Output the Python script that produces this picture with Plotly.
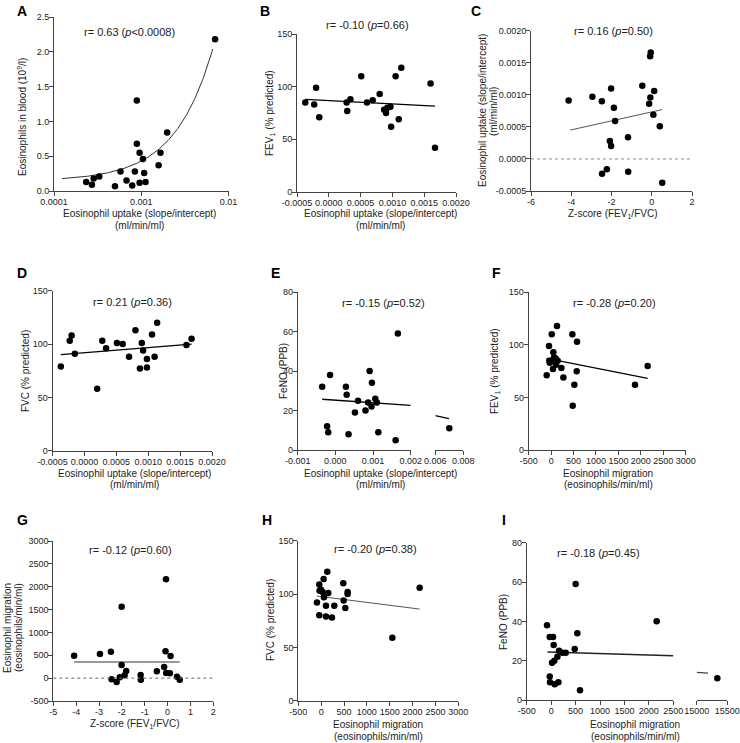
import plotly.graph_objects as go
import numpy as np

W, H = 740, 743
FONT = "Arial, Liberation Sans, sans-serif"

# ---------------- data ----------------
# A: eosinophil uptake vs eosinophils in blood (log x)
a_x = [0.000234, 0.000272, 0.000285, 0.00033, 0.0005, 0.000578, 0.000678, 0.000788, 0.000845, 0.00089,
       0.00089, 0.000957, 0.000957, 0.001045, 0.00108, 0.00112, 0.00158, 0.00166, 0.00198, 0.00702]
a_y = [0.13, 0.09, 0.18, 0.21, 0.07, 0.28, 0.15, 0.08, 0.28, 1.30,
       0.68, 0.12, 0.55, 0.46, 0.26, 0.13, 0.37, 0.55, 0.84, 2.18]
a_fit_intercept = 0.1426
a_fit_slope = 288.0
a_fit_xrange = [0.000123, 0.00659]

# B: uptake vs FEV1
b_x = [-0.00037, -0.00023, -0.0002, -0.00015, 0.00028, 0.00029, 0.00034, 0.00051, 0.0006, 0.00069, 0.0008,
       0.00087, 0.0009, 0.00092, 0.00097, 0.00098, 0.00105, 0.0011, 0.00114, 0.0016, 0.00167]
b_y = [85, 83, 99, 71, 85, 77, 88, 110, 85, 87, 93, 78, 75, 80, 81, 62, 110, 69, 118, 103, 42]
b_fit_x = [-0.00037, 0.00167]
b_fit_y = [88, 81.5]

# C: Z-score vs uptake
c_x = [-4.13, -2.95, -2.48, -2.02, -1.88, -1.82, -2.08, -2.02, -2.23, -2.47, -1.18, -1.17, -0.47, -0.13,
       -0.07, -0.08, -0.05, 0.12, 0.08, 0.4, 0.52]
c_y = [0.00091, 0.00097, 0.0009, 0.0011, 0.0008, 0.00059, 0.00028, 0.0002, -0.00016, -0.00023, 0.00034,
       -0.0002, 0.00114, 0.00086, 0.00096, 0.0016, 0.00166, 0.00106, 0.00069, 0.00051, -0.00037]
c_fit_x = [-4.05, 0.52]
c_fit_y = [0.00045, 0.00077]

# D: uptake vs FVC
d_x = [-0.00037, -0.00023, -0.0002, -0.00015, 0.0002, 0.00028, 0.00034, 0.00051, 0.0006, 0.0007, 0.0008,
       0.00087, 0.0009, 0.00092, 0.00098, 0.00098, 0.00106, 0.0011, 0.00114, 0.0016, 0.00168]
d_y = [79, 103, 108, 91, 58, 103, 96, 101, 100, 88, 113, 77, 101, 94, 86, 78, 109, 88, 120, 99, 105]
d_fit_x = [-0.00037, 0.00168]
d_fit_y = [90, 100]

# E: uptake vs FeNO (broken x axis)
e_x = [-0.00035, -0.00022, -0.00019, -0.00014, 0.00028, 0.0003, 0.00035, 0.00052, 0.0006, 0.0008,
       0.00087, 0.00091, 0.00097, 0.00096, 0.00106, 0.0011, 0.00114, 0.0016, 0.00166]
e_y = [32, 12, 9, 38, 32, 28, 8, 19, 25, 20, 24, 40, 34, 22, 26, 24, 9, 5, 59]
e_x2 = [0.007]
e_y2 = [11]
e_fit_x = [-0.00035, 0.002]
e_fit_y = [25.7, 22.6]
e_fit2_x = [0.006, 0.00698]
e_fit2_y = [17.4, 15.9]

# F: migration vs FEV1
f_x = [-99, -47, 13, 131, 50, -40, -30, -2, 65, 100, 146, 42, 109, 228, 273, 473, 577, 570, 518, 481, 1870, 2152]
f_y = [71, 99, 110, 118, 93, 85, 83, 85, 88, 87, 85, 77, 81, 78, 69, 110, 103, 75, 62, 42, 62, 80]
f_fit_x = [-99, 2152]
f_fit_y = [87.2, 68.2]

# G: Z-score vs migration
g_x = [-4.09, -2.96, -2.48, -2.45, -2.23, -2.09, -2.01, -2.01, -1.88, -1.81, -1.18, -1.17, -0.47, -0.15,
       -0.09, -0.07, -0.06, 0.1, 0.13, 0.41, 0.53]
g_y = [492, 528, 579, -26, -85, 17, 287, 1564, 61, 156, 69, -34, 149, 243, 586, 2162, 112, 105, 484, 32, -34]
g_fit_x = [-4.09, 0.53]
g_fit_y = [353, 353]

# H: migration vs FVC
h_x = [-92, -41, -34, -41, -4, 32, 54, 134, 61, 105, 105, 156, 236, 287, 484, 492, 528, 579, 579, 1557, 2155]
h_y = [92, 109, 103, 80, 104, 102, 114, 121, 97, 89, 79, 101, 78, 89, 110, 94, 87, 102, 100, 59, 106]
h_fit_x = [-92, 2155]
h_fit_y = [98.1, 85.9]

# I: migration vs FeNO (broken x axis)
i_x = [-84, -29, -23, -29, 39, 52, 18, 66, 73, 148, 162, 128, 230, 298, 482, 502, 536, 591, 2159]
i_y = [38, 12, 9, 32, 32, 28, 19, 20, 8, 9, 25, 22, 24, 24, 26, 59, 34, 5, 40]
i_x2 = [15337]
i_y2 = [11]
i_fit_x = [-76, 2500]
i_fit_y = [24.4, 22.5]
i_fit2_x = [15000, 15185]
i_fit2_y = [14.1, 13.7]

# tick values / labels
uptake_ticks = [-0.0005, 0.0, 0.0005, 0.001, 0.0015, 0.002]
uptake_labels = ["-0.0005", "0.0000", "0.0005", "0.0010", "0.0015", "0.0020"]
pct_ticks = [0, 50, 100, 150]
pct_labels = ["0", "50", "100", "150"]
a_xticks = [0.0001, 0.001, 0.01]
a_xlabels = ["0.0001", "0.001", "0.01"]
a_yticks = [0, 0.5, 1.0, 1.5, 2.0, 2.5]
a_ylabels = ["0.0", "0.5", "1.0", "1.5", "2.0", "2.5"]
z_ticks_c = [-6, -4, -2, 0, 2]
z_ticks_g = [-5, -4, -3, -2, -1, 0, 1, 2]
e_xticks1 = [-0.001, 0.0, 0.001, 0.002]
e_xlabels1 = ["-0.001", "0.000", "0.001", "0.002"]
e_xticks2 = [0.006, 0.008]
e_xlabels2 = ["0.006", "0.008"]
feno_ticks = [0, 20, 40, 60, 80]
mig_ticks = [-500, 0, 500, 1000, 1500, 2000, 2500, 3000]
mig_ticks_i = [-500, 0, 500, 1000, 1500, 2000, 2500]
i_xticks2 = [15000, 15500]
g_yticks = [-500, 0, 500, 1000, 1500, 2000, 2500, 3000]


def lab(v):
    return [str(t) for t in v]


def px(x):
    return x / W


def py(y):
    return 1 - y / H


fig = go.Figure()

MK = dict(color="black", size=6.5)


def pts(x, y, xa, ya):
    fig.add_trace(go.Scatter(x=x, y=y, mode="markers", marker=MK, xaxis=xa, yaxis=ya,
                             cliponaxis=False, showlegend=False, hoverinfo="skip"))


def fitline(x, y, xa, ya, color="black", width=1.3):
    fig.add_trace(go.Scatter(x=x, y=y, mode="lines", line=dict(color=color, width=width),
                             xaxis=xa, yaxis=ya, cliponaxis=False, showlegend=False, hoverinfo="skip"))


# A
a_line_x = np.geomspace(a_fit_xrange[0], a_fit_xrange[1], 200)
a_line_y = a_fit_intercept + a_fit_slope * a_line_x
fitline(a_line_x, a_line_y, "x", "y", color="#333", width=1)
pts(a_x, a_y, "x", "y")
# B
fitline(b_fit_x, b_fit_y, "x2", "y2")
pts(b_x, b_y, "x2", "y2")
# C
fitline(c_fit_x, c_fit_y, "x3", "y3", color="#555", width=1)
pts(c_x, c_y, "x3", "y3")
# D
fitline(d_fit_x, d_fit_y, "x4", "y4")
pts(d_x, d_y, "x4", "y4")
# E
fitline(e_fit_x, e_fit_y, "x5", "y5")
pts(e_x, e_y, "x5", "y5")
fitline(e_fit2_x, e_fit2_y, "x10", "y5")
pts(e_x2, e_y2, "x10", "y5")
# F
fitline(f_fit_x, f_fit_y, "x6", "y6")
pts(f_x, f_y, "x6", "y6")
# G
fitline(g_fit_x, g_fit_y, "x7", "y7", color="#777", width=1.4)
pts(g_x, g_y, "x7", "y7")
# H
fitline(h_fit_x, h_fit_y, "x8", "y8", color="#555", width=1)
pts(h_x, h_y, "x8", "y8")
# I
fitline(i_fit_x, i_fit_y, "x9", "y9", color="#222", width=1.3)
pts(i_x, i_y, "x9", "y9")
fitline(i_fit2_x, i_fit2_y, "x11", "y9", color="#444", width=1.3)
pts(i_x2, i_y2, "x11", "y9")


def axis(x0, x1, rng, tv, tt, anchor, typ="linear", horizontal=True, y0=None, y1=None):
    if horizontal:
        dom = [px(x0), px(x1)]
    else:
        dom = [py(y1), py(y0)]
    return dict(domain=dom, range=rng, tickvals=tv, ticktext=tt, anchor=anchor, type=typ,
                showline=True, linecolor="#444", linewidth=1, ticks="outside", ticklen=4,
                tickwidth=1, tickcolor="#444", showgrid=False, zeroline=False, tickangle=0,
                automargin=False, ticklabelstandoff=-2,
                tickfont=dict(size=9, color="#222", family=FONT), fixedrange=True)


layout = dict(
    template="none",
    width=W, height=H, margin=dict(l=0, r=0, t=0, b=0, pad=0, autoexpand=False),
    paper_bgcolor="white", plot_bgcolor="white",
    font=dict(family=FONT, color="#222", size=10),
    showlegend=False,
)
# A
layout["xaxis"] = axis(54, 228.5, [-4, -2], a_xticks, a_xlabels, "y", typ="log")
layout["yaxis"] = axis(0, 0, [0, 2.5], a_yticks, a_ylabels, "x", horizontal=False, y0=17, y1=191)
# B
layout["xaxis2"] = axis(297, 456, [-0.0005, 0.002], uptake_ticks, uptake_labels, "y2")
layout["yaxis2"] = axis(0, 0, [0, 150], pct_ticks, pct_labels, "x2", horizontal=False, y0=34, y1=192)
# C
layout["xaxis3"] = axis(531, 692, [-6, 2], z_ticks_c, lab(z_ticks_c), "y3")
layout["yaxis3"] = axis(0, 0, [-0.0005, 0.002], uptake_ticks, uptake_labels, "x3", horizontal=False, y0=30.7, y1=191)
# D
layout["xaxis4"] = axis(52.5, 212, [-0.0005, 0.002], uptake_ticks, uptake_labels, "y4")
layout["yaxis4"] = axis(0, 0, [0, 150], pct_ticks, pct_labels, "x4", horizontal=False, y0=290.7, y1=450.7)
# E
layout["xaxis5"] = axis(297.7, 410.7, [-0.001, 0.002], e_xticks1, e_xlabels1, "y5")
layout["xaxis10"] = axis(435.3, 463.3, [0.006, 0.008], e_xticks2, e_xlabels2, "y5")
layout["yaxis5"] = axis(0, 0, [0, 80], feno_ticks, lab(feno_ticks), "x5", horizontal=False, y0=292, y1=450)
# F
layout["xaxis6"] = axis(528.7, 685.7, [-500, 3000], mig_ticks, lab(mig_ticks), "y6")
layout["yaxis6"] = axis(0, 0, [0, 150], pct_ticks, pct_labels, "x6", horizontal=False, y0=292.3, y1=450)
# G
layout["xaxis7"] = axis(53.3, 213.3, [-5, 2], z_ticks_g, lab(z_ticks_g), "y7")
layout["yaxis7"] = axis(0, 0, [-500, 3000], g_yticks, lab(g_yticks), "x7", horizontal=False, y0=541, y1=701)
# H
layout["xaxis8"] = axis(298.3, 458.3, [-500, 3000], mig_ticks, lab(mig_ticks), "y8")
layout["yaxis8"] = axis(0, 0, [0, 150], pct_ticks, pct_labels, "x8", horizontal=False, y0=540.7, y1=700.7)
# I
layout["xaxis9"] = axis(526.7, 673.3, [-500, 2500], mig_ticks_i, lab(mig_ticks_i), "y9")
layout["xaxis11"] = axis(696.7, 727.3, [15000, 15500], i_xticks2, lab(i_xticks2), "y9")
layout["yaxis9"] = axis(0, 0, [0, 80], feno_ticks, lab(feno_ticks), "x9", horizontal=False, y0=542.7, y1=700)

fig.update_layout(**layout)

# dotted zero lines
fig.add_shape(type="line", xref="x3", yref="y3", x0=-6, x1=2, y0=0, y1=0,
              line=dict(color="#888", width=1, dash="dot"))
fig.add_shape(type="line", xref="x7", yref="y7", x0=-5, x1=2, y0=0, y1=0,
              line=dict(color="#666", width=1, dash="dot"))

ann = []


def text(x, y, s, size=10, angle=0, bold=False, color="#222"):
    ann.append(dict(x=px(x), y=py(y), xref="paper", yref="paper", text=("<b>%s</b>" % s) if bold else s,
                    showarrow=False, xanchor="center", yanchor="middle", textangle=angle,
                    font=dict(size=size, color=color, family=FONT)))


# panel letters
for L, (x, y) in {"A": (22, 11), "B": (265, 11), "C": (476, 11), "D": (22, 273), "E": (275, 273),
                  "F": (496, 273), "G": (22, 520), "H": (267, 520), "I": (504, 520)}.items():
    text(x, y, L, size=14, bold=True, color="black")

# statistics
text(129, 32, "r= 0.63 (<i>p</i><0.0008)", size=11)
text(367, 25, "r= -0.10 (<i>p</i>=0.66)", size=11)
text(613, 31, "r= 0.16 (<i>p</i>=0.50)", size=11)
text(132, 302, "r= 0.21 (<i>p</i>=0.36)", size=11)
text(383, 303, "r= -0.15 (<i>p</i>=0.52)", size=11)
text(614, 303, "r= -0.28 (<i>p</i>=0.20)", size=11)
text(130, 550, "r= -0.12 (<i>p</i>=0.60)", size=11)
text(375, 549, "r= -0.20 (<i>p</i>=0.38)", size=11)
text(598, 553, "r= -0.18 (<i>p</i>=0.45)", size=11)

UPT = "Eosinophil uptake (slope/intercept)"
UNIT = "(ml/min/ml)"
MIG = "Eosinophil migration"
MUNIT = "(eosinophils/min/ml)"
ZS = "Z-score (FEV<sub>1</sub>/FVC)"
FEV = "FEV<sub>1</sub> (% predicted)"
FVC = "FVC (% predicted)"
FENO = "FeNO (PPB)"

# A titles
text(139, 213, UPT); text(139, 225, UNIT)
text(22, 117, "Eosinophils in blood (10<sup>9</sup>/l)", angle=-90)
# B
text(380, 213, UPT); text(380, 225, UNIT)
text(270, 113, FEV, angle=-90)
# C
text(612, 214, ZS)
text(483, 111, UPT, angle=-90); text(494, 111, UNIT, angle=-90)
# D
text(134, 473, UPT); text(134, 485, UNIT)
text(25, 371, FVC, angle=-90)
# E
text(381, 473, UPT); text(381, 485, UNIT)
text(283, 371, FENO, angle=-90)
# F
text(608, 473, MIG); text(608, 485, MUNIT)
text(495, 371, FEV, angle=-90)
# G
text(134, 724, ZS)
text(7, 628, MIG, angle=-90); text(18, 628, MUNIT, angle=-90)
# H
text(378, 724, MIG); text(378, 736, MUNIT)
text(270, 620, FVC, angle=-90)
# I
text(635, 724, MIG); text(635, 736, MUNIT)
text(503, 622, FENO, angle=-90)

fig.update_layout(annotations=ann)
fig.write_html("out.html", config={"displayModeBar": False},
               post_script="document.body.style.margin='0px';")
